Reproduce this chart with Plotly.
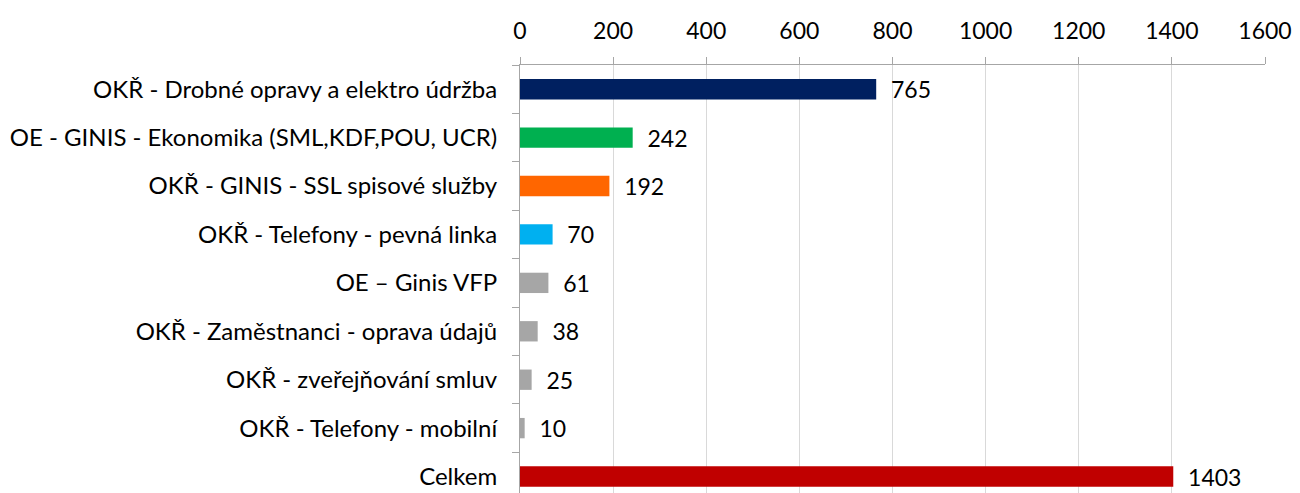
import plotly.graph_objects as go

categories = [
    "OKŘ - Drobné opravy a elektro údržba",
    "OE - GINIS - Ekonomika (SML,KDF,POU, UCR)",
    "OKŘ - GINIS - SSL spisové služby",
    "OKŘ - Telefony - pevná linka",
    "OE – Ginis VFP",
    "OKŘ - Zaměstnanci - oprava údajů",
    "OKŘ - zveřejňování smluv",
    "OKŘ - Telefony - mobilní",
    "Celkem",
]
values = [765, 242, 192, 70, 61, 38, 25, 10, 1403]
colors = ["#002060", "#00B050", "#FF6600", "#00B0F0", "#A6A6A6",
          "#A6A6A6", "#A6A6A6", "#A6A6A6", "#C00000"]
x_ticks = [0, 200, 400, 600, 800, 1000, 1200, 1400, 1600]

FONT = "Lato"
FS = 24

fig = go.Figure(go.Bar(
    x=values,
    y=categories,
    orientation="h",
    marker=dict(color=colors, line=dict(width=0)),
    width=0.42,
    text=values,
    texttemplate="  %{x}",
    textposition="outside",
    constraintext="none",
    textfont=dict(family=FONT, size=FS - 1, color="#000000"),
    cliponaxis=False,
))

fig.update_layout(
    width=1300,
    height=493,
    margin=dict(l=520, r=35, t=65, b=0, autoexpand=False),
    paper_bgcolor="white",
    plot_bgcolor="white",
    showlegend=False,
    font=dict(family=FONT, size=FS, color="#000000"),
    xaxis=dict(
        side="top",
        range=[0, 1600],
        tickvals=x_ticks,
        ticktext=[str(v) for v in x_ticks],
        showgrid=True,
        gridcolor="#D9D9D9",
        gridwidth=1,
        showline=True,
        linecolor="#A6A6A6",
        linewidth=1,
        ticks="outside",
        ticklen=7,
        tickcolor="#A6A6A6",
        ticklabelstandoff=9,
        zeroline=False,
        automargin=False,
        tickfont=dict(family=FONT, size=FS - 1, color="#000000"),
        fixedrange=True,
    ),
    yaxis=dict(
        type="category",
        categoryorder="array",
        categoryarray=categories,
        range=[8.34, -0.5],
        showline=True,
        linecolor="#A6A6A6",
        linewidth=1,
        ticks="outside",
        ticklen=7,
        tickcolor="#A6A6A6",
        tickson="boundaries",
        ticklabelstandoff=17,
        showgrid=False,
        automargin=False,
        tickfont=dict(family=FONT, size=FS, color="#000000"),
        fixedrange=True,
    ),
    bargap=0.58,
)

fig.write_html(
    "out.html",
    config={"displayModeBar": False},
    post_script="document.body.style.margin='0';document.body.style.overflow='hidden';",
)
